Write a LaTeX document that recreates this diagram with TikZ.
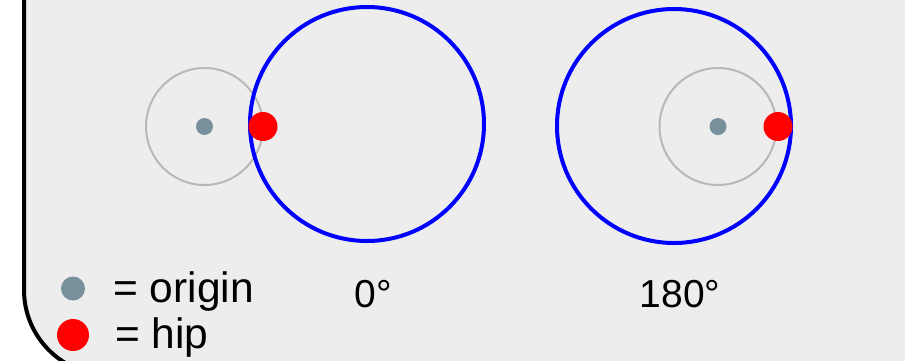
\documentclass[tikz,border=0pt]{standalone}
\usepackage{fontspec}
\setmainfont{Liberation Sans}
\definecolor{panel}{HTML}{EDEDED}
\definecolor{origincol}{HTML}{78909C}
\definecolor{orbit}{HTML}{B8B8B8}
\tikzset{
  dot/.style={circle, inner sep=0pt, draw=none},
  wheel/.style={blue, line width=4pt},
  track/.style={orbit, line width=2pt},
  keytext/.style={anchor=base west, inner sep=0pt, font=\fontsize{42.5}{48}\selectfont}
}
\begin{document}
\begin{tikzpicture}[x=1pt, y=-1pt, font=\fontsize{39}{44}\selectfont]
   \newdimen\R
   \R=117pt
   \newdimen\Rs
   \Rs=58.5pt
   \useasboundingbox (0,0) rectangle (905,360);
   \clip (0,0) rectangle (905,360);
   \fill[white] (0,0) rectangle (905,360);
   \draw[fill=panel, line width=4pt, rounded corners=85pt] (24,-200) rectangle (1100,375);
   % the two positions of the hip
   \foreach \n/\cx/\cy/\ox/\hx/\lx/\l in
     { a/367/124/204.5/263/373/{0°},
       b/674/126/718/778/680/{180°}
     }
   {
     \coordinate (c\n) at (\cx,\cy);
     \node[dot, fill=origincol, minimum size=17pt] (o\n) at (\ox,126.5) {};
     \draw[track] (o\n) circle[radius=\Rs];
     \draw[wheel] (c\n) circle[radius=\R];
     \node[dot, fill=red, minimum size=29pt] (h\n) at (\hx,126.5) {};
     \node[anchor=base, inner sep=0pt] (t\n) at (\lx,307) {\l};
   }
   % key
   \node[dot, fill=origincol, minimum size=24pt] (keyo) at (73,288.5) {};
   \node[dot, fill=red, minimum size=32pt] (keyh) at (73,335) {};
   \node[keytext] (keyotext) at (113,302) {= origin};
   \node[keytext] (keyhtext) at (115,348) {= hip};
\end{tikzpicture}
\end{document}
